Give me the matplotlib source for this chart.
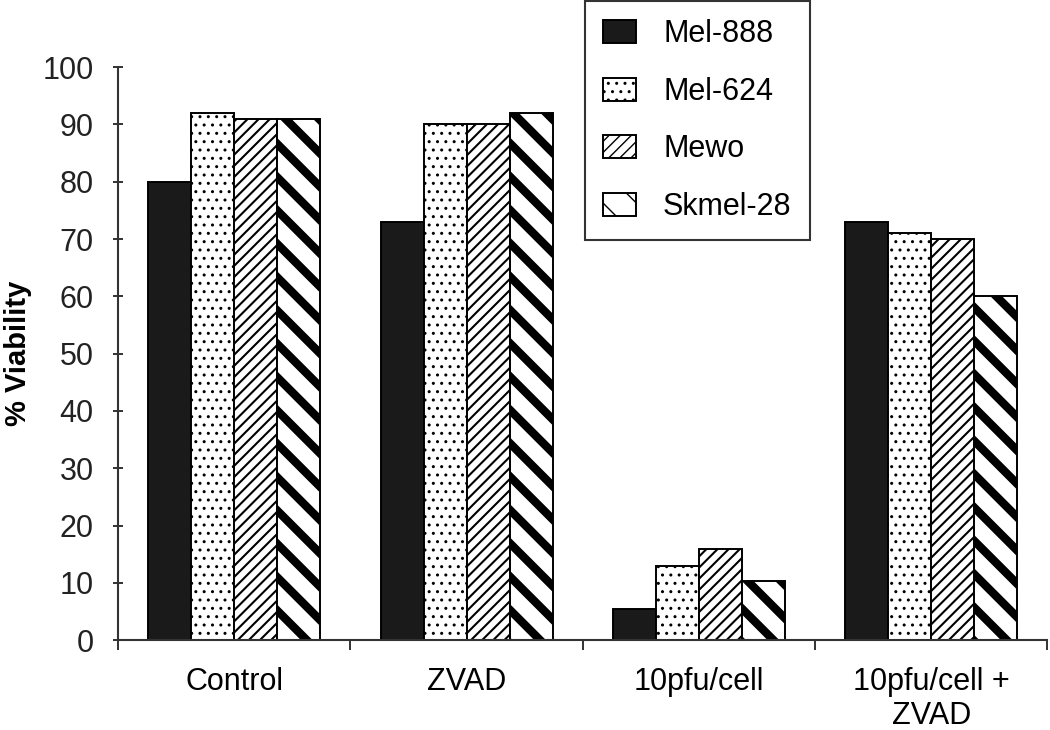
import numpy as np
import matplotlib

matplotlib.use("Agg")
from matplotlib import pyplot as plt

plt.rcParams['font.family'] = ['Liberation Sans', 'DejaVu Sans']

categories = ["Control", "ZVAD", "10pfu/cell", "10pfu/cell +\nZVAD"]
series_names = ["Mel-888", "Mel-624", "Mewo", "Skmel-28"]
mel888 = [80, 73, 5.5, 73]
mel624 = [92, 90, 13, 71]
mewo = [91, 90, 16, 70]
skmel28 = [91, 92, 10.3, 60]
y_ticks = [0, 10, 20, 30, 40, 50, 60, 70, 80, 90, 100]

series = [mel888, mel624, mewo, skmel28]
faces = ['#1a1a1a', 'white', 'white', 'white']
hatches = [None, '..', '///', '\\']
hatch_widths = [1.0, 1.0, 1.5, 6.0]

fig = plt.figure(figsize=(10.5, 7.3), dpi=100)
ax = fig.add_axes([0.1125, 0.123, 0.885, 0.785])

x = np.arange(len(categories))
width = 0.185

for i, vals in enumerate(series):
    with plt.rc_context({'hatch.linewidth': hatch_widths[i]}):
        bars = ax.bar(x + (i - 1.5) * width, vals, width, color=faces[i],
                      edgecolor='black', linewidth=1.4, hatch=hatches[i],
                      label=series_names[i])
        for b in bars:
            if hasattr(b, 'set_hatch_linewidth'):
                b.set_hatch_linewidth(hatch_widths[i])

ax.set_xlim(-0.5, 3.5)
ax.set_ylim(0, 100)
ax.set_yticks(y_ticks)
ax.tick_params(axis='y', direction='inout', length=7, width=1.3,
               labelsize=22, pad=14, colors='#222222')

ax.set_xticks(np.arange(-0.5, 4, 1))
ax.set_xticklabels([])
ax.set_xticks(x, minor=True)
ax.set_xticklabels(categories, minor=True, fontsize=22)
ax.tick_params(axis='x', which='major', direction='out', length=7, width=1.3,
               colors='#222222')
ax.tick_params(axis='x', which='minor', length=0, pad=19)

for s in ['top', 'right']:
    ax.spines[s].set_visible(False)
for s in ['left', 'bottom']:
    ax.spines[s].set_linewidth(1.5)
    ax.spines[s].set_color('#333333')

ax.set_ylabel("% Viability", fontsize=21, fontweight='bold')
ax.yaxis.set_label_coords(-0.093, 0.5)

leg = ax.legend(loc='upper left', bbox_to_anchor=(0.557, 0.9986),
                bbox_transform=fig.transFigure, fontsize=22,
                frameon=True, fancybox=False, borderpad=0.6,
                labelspacing=0.9, handlelength=1.08, handleheight=0.8,
                handletextpad=0.88, borderaxespad=0)
leg.get_frame().set_edgecolor('black')
leg.get_frame().set_linewidth(1.5)

fig.savefig("out.png", dpi=100)
